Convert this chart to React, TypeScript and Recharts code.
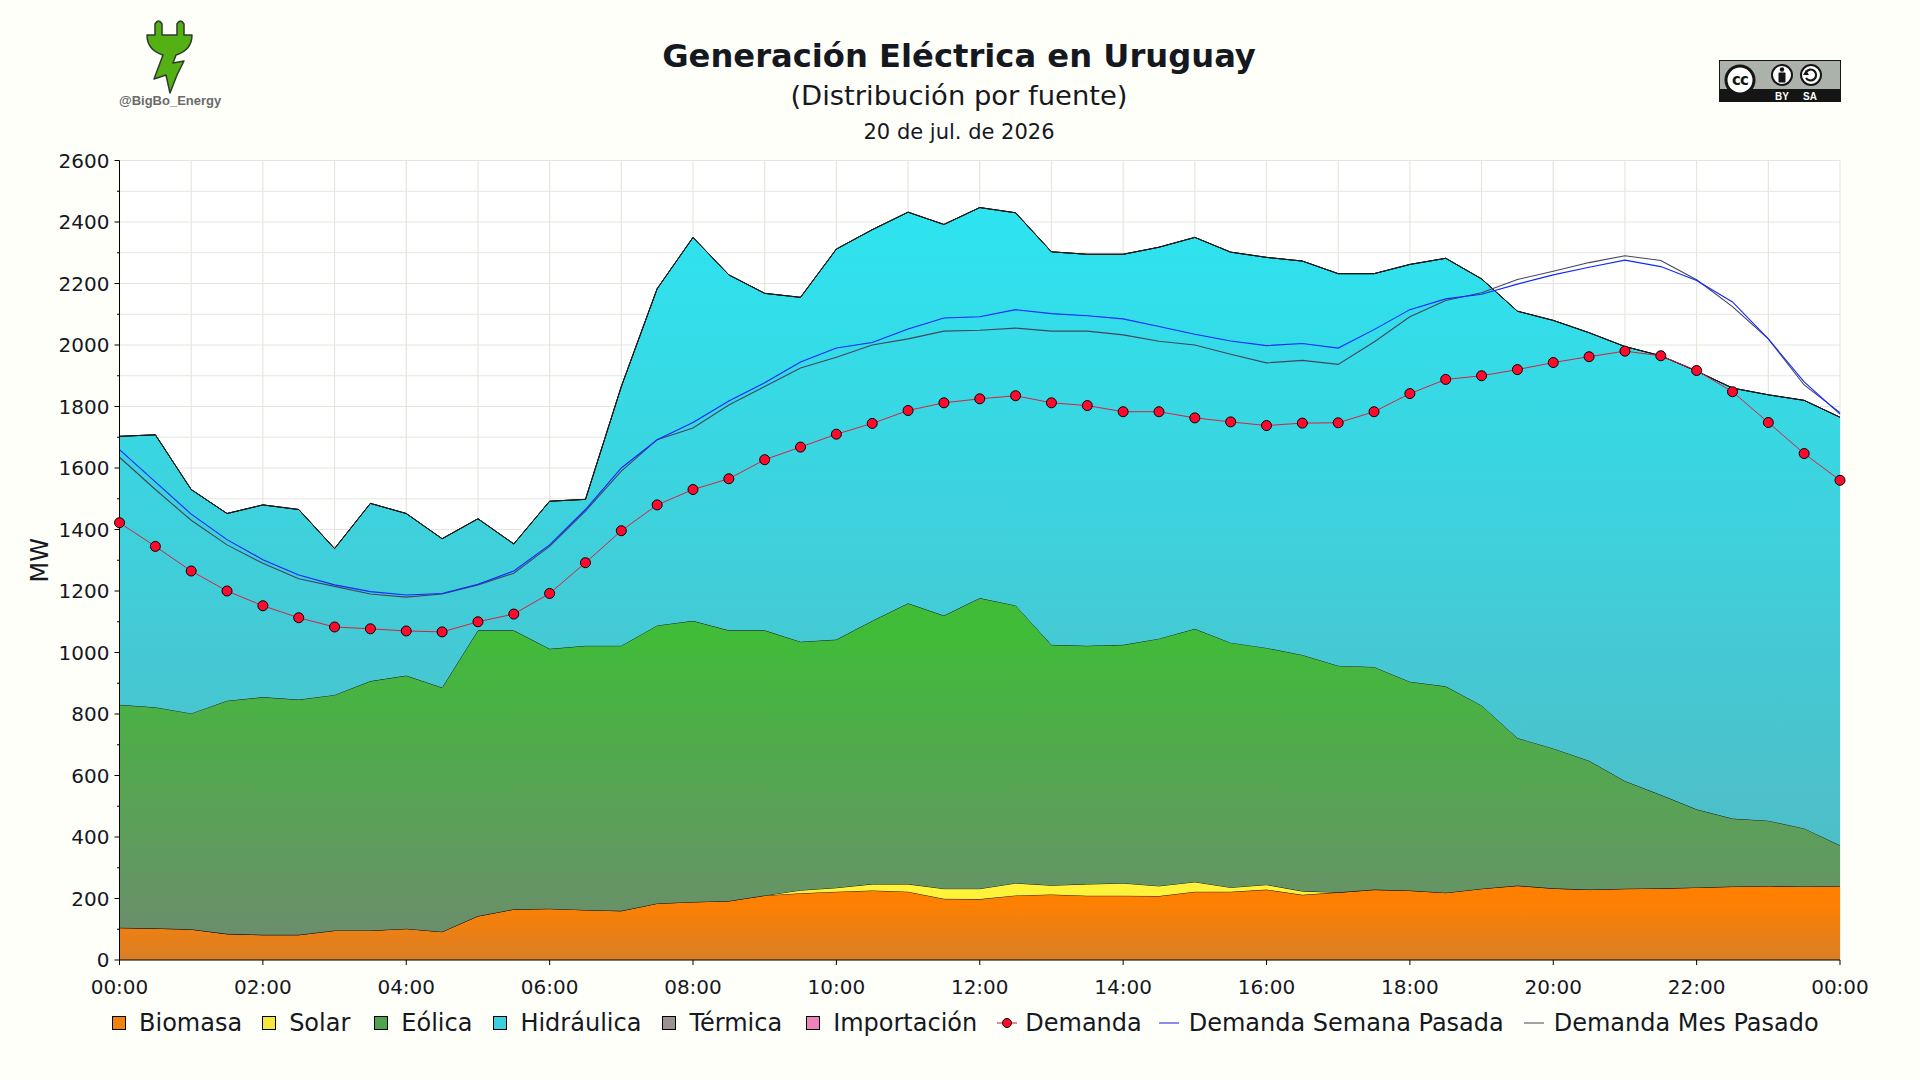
import { Area, CartesianGrid, ComposedChart, Legend, Line, XAxis, YAxis } from "recharts";

const slots = [
	0, 1, 2, 3, 4, 5, 6, 7, 8, 9, 10, 11, 12, 13, 14, 15, 16, 17, 18, 19, 20, 21, 22, 23, 24,
	25, 26, 27, 28, 29, 30, 31, 32, 33, 34, 35, 36, 37, 38, 39, 40, 41, 42, 43, 44, 45, 46, 47, 48,
];
const biomasa = [
	105, 103, 100, 85, 82, 82, 96, 96, 102, 92, 143, 165, 167, 163, 160, 184, 189, 192, 210, 217, 222, 226, 222, 199, 198,
	210, 213, 209, 209, 208, 222, 222, 229, 212, 220, 229, 226, 219, 232, 242, 233, 229, 232, 233, 236, 239, 241, 239, 241,
];
const solar = [
	0, 0, 0, 0, 0, 0, 0, 0, 0, 0, 0, 0, 0, 0, 0, 0, 0, 0, 0, 10, 13, 21, 25, 33, 34,
	40, 30, 38, 41, 33, 32, 14, 16, 12, 0, 0, 0, 0, 0, 0, 0, 0, 0, 0, 0, 0, 0, 0, 0,
];
// tops of the stack
const eolicaTop = [
	830, 822, 802, 843, 855, 847, 862, 907, 925, 886, 1072, 1072, 1012, 1022, 1022, 1088, 1103, 1072, 1072, 1035, 1042, 1103, 1160, 1120, 1177,
	1153, 1025, 1022, 1025, 1045, 1077, 1032, 1015, 992, 957, 953, 905, 890, 828, 722, 688, 648, 582, 537, 490, 460, 453, 428, 373,
];
const hidraulicaTop = [
	1703, 1708, 1530, 1452, 1480, 1465, 1338, 1485, 1452, 1370, 1435, 1353, 1492, 1498, 1865, 2183, 2350, 2228, 2168, 2155, 2312, 2375, 2432, 2392, 2447,
	2430, 2303, 2295, 2295, 2318, 2350, 2302, 2285, 2273, 2232, 2232, 2262, 2282, 2215, 2110, 2080, 2040, 1995, 1965, 1915, 1860, 1838, 1820, 1765,
];
const demanda = [
	1422, 1345, 1265, 1200, 1152, 1113, 1083, 1077, 1070, 1067, 1100, 1125, 1192, 1292, 1396, 1480, 1530, 1565, 1627, 1668, 1710, 1745, 1787, 1812, 1825,
	1835, 1812, 1803, 1783, 1783, 1763, 1750, 1738, 1746, 1747, 1783, 1842, 1888, 1900, 1920, 1943, 1962, 1980, 1965, 1917, 1848, 1748, 1647, 1560,
];
const semanaPasada = [
	1660, 1555, 1450, 1367, 1302, 1252, 1220, 1198, 1187, 1192, 1222, 1265, 1350, 1465, 1600, 1692, 1748, 1818, 1877, 1945, 1990, 2008, 2052, 2088, 2092,
	2115, 2102, 2095, 2085, 2060, 2035, 2013, 1998, 2005, 1990, 2050, 2115, 2150, 2165, 2198, 2228, 2253, 2276, 2255, 2210, 2140, 2020, 1880, 1775,
];
const mesPasado = [
	1635, 1530, 1430, 1350, 1290, 1240, 1215, 1190, 1180, 1190, 1220, 1258, 1345, 1460, 1590, 1692, 1730, 1805, 1865, 1925, 1960, 2000, 2020, 2045, 2048,
	2055, 2045, 2045, 2033, 2012, 2000, 1970, 1942, 1950, 1937, 2010, 2092, 2145, 2170, 2213, 2240, 2268, 2290, 2275, 2212, 2125, 2020, 1870, 1780,
];

const xTicks = [0, 2, 4, 6, 8, 10, 12, 14, 16, 18, 20, 22, 24, 26, 28, 30, 32, 34, 36, 38, 40, 42, 44, 46, 48];
const xLabels = ["00:00", "02:00", "04:00", "06:00", "08:00", "10:00", "12:00", "14:00", "16:00", "18:00", "20:00", "22:00", "00:00"];
const yTicks = [
	0, 100, 200, 300, 400, 500, 600, 700, 800, 900, 1000, 1100, 1200, 1300, 1400, 1500, 1600, 1700, 1800, 1900, 2000, 2100, 2200, 2300, 2400, 2500, 2600,
];

const data = slots.map((slot, i) => ({
	slot,
	biomasa: biomasa[i],
	solar: solar[i],
	eolica: eolicaTop[i] - biomasa[i] - solar[i],
	hidraulica: hidraulicaTop[i] - eolicaTop[i],
	termica: 0,
	importacion: 0,
	demanda: demanda[i],
	semana: semanaPasada[i],
	mes: mesPasado[i],
}));

const FONT = "'DejaVu Sans', sans-serif";
const INK = "#15181f";

function YTick({ x, y, payload }: any) {
	const major = payload.value % 200 === 0;
	return (
		<g>
			<line x1={x - (major ? 5 : 2.5)} x2={x} y1={y} y2={y} stroke="#000" />
			{major && (
				<text x={x - 10} y={y + 7} textAnchor="end" fontSize={20} fontFamily={FONT} fill={INK}>
					{payload.value}
				</text>
			)}
		</g>
	);
}

function XTick({ x, y, payload }: any) {
	if (payload.value % 4 !== 0) return <g />;
	return (
		<g>
			<line x1={x} x2={x} y1={y} y2={y + 5} stroke="#000" />
			<text x={x} y={y + 34} textAnchor="middle" fontSize={20} fontFamily={FONT} fill={INK}>
				{xLabels[payload.value / 4]}
			</text>
		</g>
	);
}

const legendItems = [
	{ name: "Biomasa", kind: "box", color: "#f0820f", gap: 20 },
	{ name: "Solar", kind: "box", color: "#f5e73c", gap: 24 },
	{ name: "Eólica", kind: "box", color: "#4da54d", gap: 21 },
	{ name: "Hidráulica", kind: "box", color: "#3cd0de", gap: 21 },
	{ name: "Térmica", kind: "box", color: "#9a9292", gap: 24 },
	{ name: "Importación", kind: "box", color: "#ee82bb", gap: 20 },
	{ name: "Demanda", kind: "dot", color: "#ff0a2d", gap: 17 },
	{ name: "Demanda Semana Pasada", kind: "line", color: "#1a1ae0", gap: 20 },
	{ name: "Demanda Mes Pasado", kind: "line", color: "#444455", gap: 0 },
];

function LegendBox() {
	return (
		<div style={{ display: "flex", alignItems: "center", fontFamily: FONT, fontSize: 24, color: INK, whiteSpace: "nowrap", lineHeight: "30px" }}>
			{legendItems.map((it) => (
				<div key={it.name} style={{ display: "flex", alignItems: "center", marginRight: it.gap }}>
					<svg width={it.kind === "box" ? 14 : 20} height={16} style={{ marginRight: it.kind === "box" ? 13 : it.kind === "dot" ? 8 : 10 }}>
						{it.kind === "box" && <rect x={0.5} y={1.5} width={13} height={13} fill={it.color} stroke="#000" />}
						{it.kind !== "box" && <line x1={0} x2={20} y1={8} y2={8} stroke={it.kind === "dot" ? "#d01030" : it.color} />}
						{it.kind === "dot" && <circle cx={10} cy={8} r={4.5} fill={it.color} stroke="#000" />}
					</svg>
					<span>{it.name}</span>
				</div>
			))}
		</div>
	);
}

function Logo() {
	return (
		<div style={{ position: "absolute", left: 110, top: 15, width: 120 }}>
			<svg width={120} height={82} style={{ display: "block" }}>
				<path
					d="M37 20 L45 20 L45 9 Q48.5 3 52 9 L52 20 L67 20 L67 9 Q70.5 3 74 9 L74 20 L82 20 Q82 35 66 40 L63 48 L74 46 L67 60 L60 78 L56 60 L44 64 L53 40 Q37 35 37 20 Z"
					fill="#55b014"
					stroke="#2e3a30"
					strokeWidth={1.5}
					strokeLinejoin="round"
				/>
			</svg>
			<div style={{ position: "absolute", left: 9, top: 78, fontFamily: "'Liberation Sans', sans-serif", fontWeight: 700, fontSize: 13, color: "#6a6a6a" }}>
				@BigBo_Energy
			</div>
		</div>
	);
}

function CcBadge() {
	return (
		<svg width={122} height={42} style={{ position: "absolute", left: 1719, top: 60 }}>
			<rect x={0.5} y={0.5} width={121} height={41} fill="#aab2ab" stroke="#151515" />
			<rect x={0} y={29} width={122} height={13} fill="#151515" />
			<circle cx={21} cy={20} r={14} fill="#fff" stroke="#151515" strokeWidth={3} />
			<text x={21} y={25} textAnchor="middle" fontFamily={FONT} fontWeight={700} fontSize={15} letterSpacing={-1} fill="#151515">cc</text>
			<circle cx={63} cy={15} r={10} fill="#fff" stroke="#151515" strokeWidth={2} />
			<circle cx={63} cy={9.5} r={2.2} fill="#151515" />
			<rect x={59.5} y={12.5} width={7} height={10} rx={1} fill="#151515" />
			<circle cx={92} cy={15} r={10} fill="#fff" stroke="#151515" strokeWidth={2} />
			<path d="M87 12 A5.5 5.5 0 1 1 87 18" fill="none" stroke="#151515" strokeWidth={2.2} />
			<path d="M84 15 L90 15 L87 10 Z" fill="#151515" />
			<text x={63} y={40} textAnchor="middle" fontFamily="'Liberation Sans', sans-serif" fontWeight={700} fontSize={10} fill="#fff">BY</text>
			<text x={91} y={40} textAnchor="middle" fontFamily="'Liberation Sans', sans-serif" fontWeight={700} fontSize={10} fill="#fff">SA</text>
		</svg>
	);
}

export default function App() {
	return (
		<div style={{ position: "fixed", left: 0, top: 0, width: 1920, height: 1080, background: "#fffffa", color: INK, fontFamily: FONT, overflow: "hidden" }}>
			<div style={{ position: "absolute", left: 0, width: 1918, top: 36, textAlign: "center", fontSize: 32.2, fontWeight: 700, lineHeight: "40px" }}>
				Generación Eléctrica en Uruguay
			</div>
			<div style={{ position: "absolute", left: 0, width: 1918, top: 79, textAlign: "center", fontSize: 27.4, lineHeight: "34px" }}>
				(Distribución por fuente)
			</div>
			<div style={{ position: "absolute", left: 0, width: 1918, top: 119, textAlign: "center", fontSize: 21, lineHeight: "26px" }}>
				20 de jul. de 2026
			</div>
			<Logo />
			<CcBadge />
			<ComposedChart width={1920} height={1080} data={data} margin={{ top: 160.5, right: 80, bottom: 60, left: 0 }} style={{ position: "absolute", left: 0, top: 0 }}>
				<defs>
					<linearGradient id="gBiomasa" x1="0" y1="0" x2="0" y2="1">
						<stop offset="0.2" stopColor="#ff8000" />
						<stop offset="1" stopColor="#d97f27" />
					</linearGradient>
					<linearGradient id="gSolar" x1="0" y1="0" x2="0" y2="1">
						<stop offset="0" stopColor="#fff23a" />
						<stop offset="1" stopColor="#fff23a" />
					</linearGradient>
					<linearGradient id="gEolica" x1="0" y1="0" x2="0" y2="1">
						<stop offset="0.1" stopColor="#40bc38" />
						<stop offset="1" stopColor="#6b8e6c" />
					</linearGradient>
					<linearGradient id="gHidraulica" x1="0" y1="0" x2="0" y2="1">
						<stop offset="0" stopColor="#2de4f0" />
						<stop offset="1" stopColor="#4ebec8" />
					</linearGradient>
				</defs>
				<CartesianGrid stroke="#e6e6df" strokeWidth={1.2} fill="#fff" fillOpacity={1} />
				<XAxis
					dataKey="slot"
					type="number"
					domain={[0, 48]}
					ticks={xTicks}
					interval={0}
					height={60}
					tickSize={0}
					tickMargin={0}
					tick={XTick}
					stroke="#000"
				/>
				<YAxis
					domain={[0, 2600]}
					ticks={yTicks}
					interval={0}
					width={119.5}
					tickSize={0}
					tickMargin={0}
					tick={YTick}
					stroke="#000"
					label={{ value: "MW", angle: -90, position: "insideLeft", offset: 39, fontSize: 24, fontFamily: FONT, fill: INK, textAnchor: "middle" }}
				/>
				<Area dataKey="biomasa" name="Biomasa" stackId="mix" stroke="#1a1a1a" fill="url(#gBiomasa)" fillOpacity={1} isAnimationActive={false} />
				<Area dataKey="solar" name="Solar" stackId="mix" stroke="#1a1a1a" fill="url(#gSolar)" fillOpacity={1} isAnimationActive={false} />
				<Area dataKey="eolica" name="Eólica" stackId="mix" stroke="#1a1a1a" fill="url(#gEolica)" fillOpacity={1} isAnimationActive={false} />
				<Area dataKey="hidraulica" name="Hidráulica" stackId="mix" stroke="#1a1a1a" fill="url(#gHidraulica)" fillOpacity={1} isAnimationActive={false} />
				<Area dataKey="termica" name="Térmica" stackId="mix" stroke="#1a1a1a" fill="#9a9292" fillOpacity={1} isAnimationActive={false} />
				<Area dataKey="importacion" name="Importación" stackId="mix" stroke="#1a1a1a" fill="#ee82bb" fillOpacity={1} isAnimationActive={false} />
				<Line dataKey="mes" name="Demanda Mes Pasado" stroke="#44445e" strokeWidth={1.1} dot={false} isAnimationActive={false} />
				<Line dataKey="semana" name="Demanda Semana Pasada" stroke="#1028ff" strokeWidth={1.1} dot={false} isAnimationActive={false} />
				<Line
					dataKey="demanda"
					name="Demanda"
					stroke="#d9203f"
					strokeWidth={1}
					dot={{ r: 5, fill: "#ff0a2d", stroke: "#000", strokeWidth: 1, fillOpacity: 1 }}
					isAnimationActive={false}
				/>
				<Legend
					verticalAlign="middle"
					layout="horizontal"
					content={LegendBox}
					wrapperStyle={{ position: "absolute", left: 112, top: 1008, width: "auto", margin: 0 }}
				/>
			</ComposedChart>
		</div>
	);
}
